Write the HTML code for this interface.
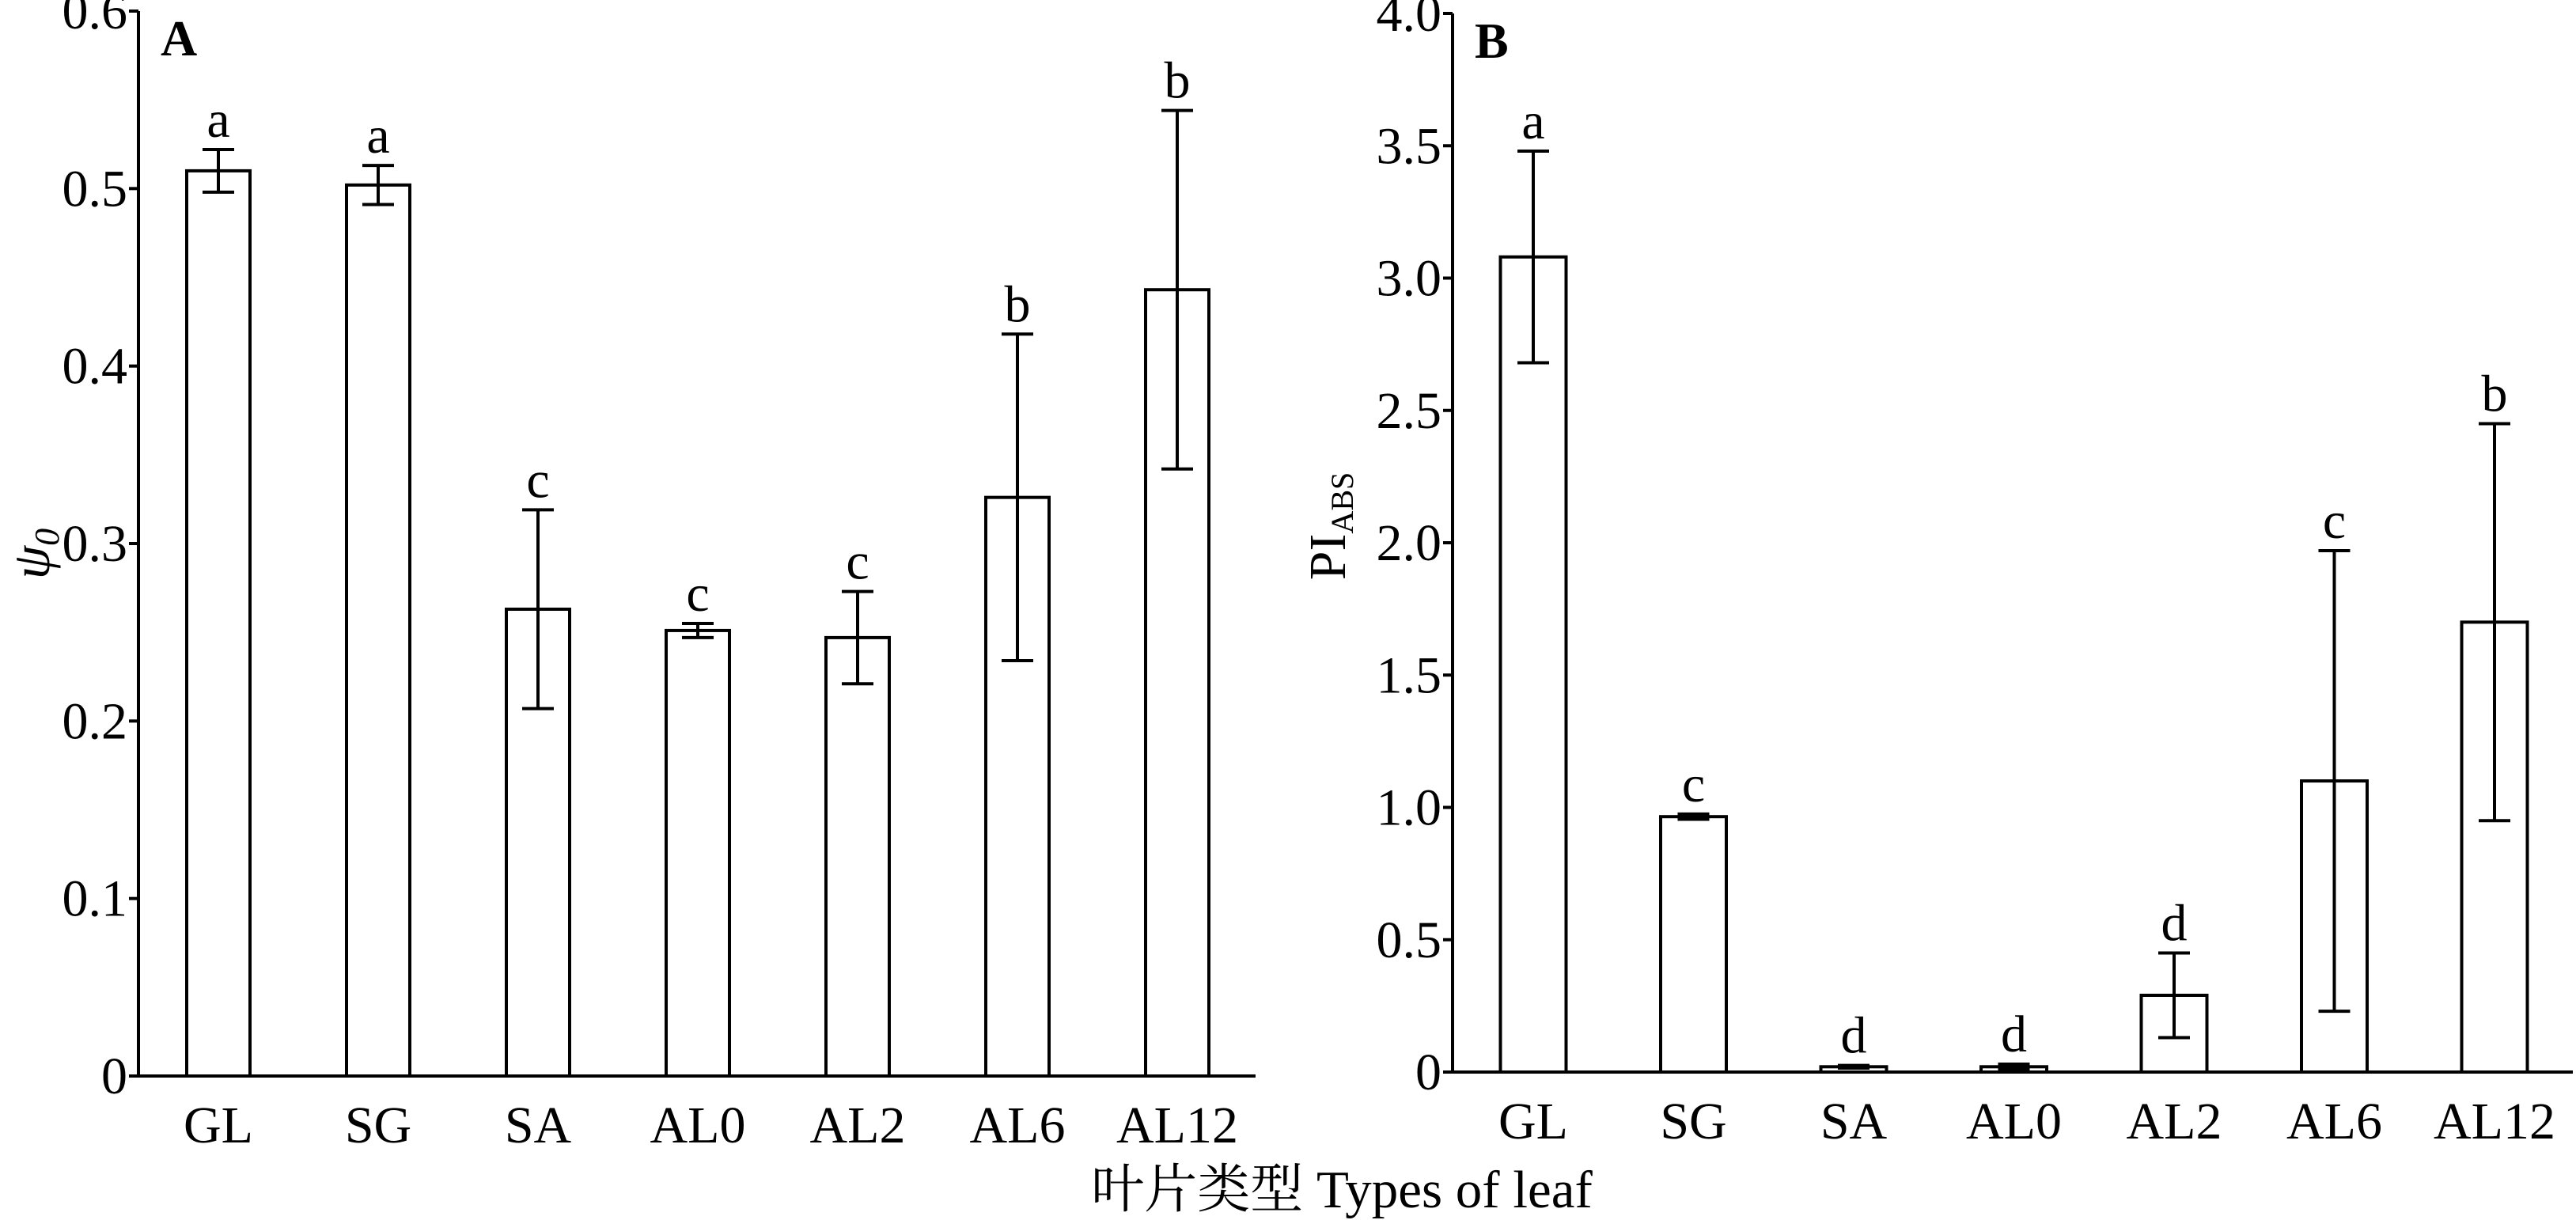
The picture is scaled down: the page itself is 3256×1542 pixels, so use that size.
<!DOCTYPE html>
<html><head><meta charset="utf-8"><style>
body{margin:0;background:#fff}
svg{display:block}
text{font-family:"Liberation Serif","Noto Serif CJK SC",serif;fill:#000}
</style></head><body>
<svg id="c" width="3256" height="1542" viewBox="0 0 3256 1542"></svg>
<script>
const categories=["GL","SG","SA","AL0","AL2","AL6","AL12"];
const valuesA=[0.510,0.502,0.263,0.251,0.247,0.326,0.443];
const errA=[0.012,0.011,0.056,0.004,0.026,0.092,0.101];
const lettersA=["a","a","c","c","c","b","b"];
const ticksA=[0,0.1,0.2,0.3,0.4,0.5,0.6];
const tickLabelsA=["0","0.1","0.2","0.3","0.4","0.5","0.6"];
const valuesB=[3.08,0.965,0.02,0.02,0.29,1.10,1.70];
const errB=[0.40,0.01,0.005,0.01,0.16,0.87,0.75];
const lettersB=["a","c","d","d","d","c","b"];
const ticksB=[0,0.5,1,1.5,2,2.5,3,3.5,4];
const tickLabelsB=["0","0.5","1.0","1.5","2.0","2.5","3.0","3.5","4.0"];

const NS="http://www.w3.org/2000/svg";
const svg=document.getElementById('c');
function mk(tag,attrs,parent,txt){const e=document.createElementNS(NS,tag);for(const k in attrs)e.setAttribute(k,attrs[k]);if(txt!==undefined)e.textContent=txt;(parent||svg).appendChild(e);return e;}

function panel(p){
  const g=mk('g',{},svg);
  
  
  const y=v=>p.y0-(v/p.max)*(p.y0-p.yTop);
  const x=i=>p.x0+p.first+i*p.step;
  const ax=mk('path',{d:`M${p.x0} ${p.yTop}V${p.y0}H${p.xEnd}`,stroke:'#000','stroke-width':4,fill:'none'},g);
  
  
  p.ticks.forEach((t,i)=>{
    const tk=mk('line',{x1:p.x0-12,x2:p.x0,y1:y(t),y2:y(t),stroke:'#000','stroke-width':4},g);
    
    
    const tl=mk('text',{x:p.x0-14,y:y(t)+22,'text-anchor':'end','font-size':66},g,p.tickLabels[i]);
    
    
  });
  categories.forEach((c,i)=>{
    const v=p.values[i],e=p.err[i],cx=x(i),w=p.bw;
    const b=mk('rect',{x:cx-w/2,y:y(v),width:w,height:p.y0-y(v),fill:'#fff',stroke:'#000','stroke-width':4},g);
    
    
    const eb=mk('path',{d:`M${cx} ${y(v+e)}V${y(v-e)}M${cx-20} ${y(v+e)}H${cx+20}M${cx-20} ${y(v-e)}H${cx+20}`,stroke:'#000','stroke-width':4,fill:'none'},g);
    
    
    const lt=mk('text',{x:cx,y:y(v+e)-16,'text-anchor':'middle','font-size':66},g,p.letters[i]);
    
    
    const cl=mk('text',{x:cx,y:p.y0+84,'text-anchor':'middle','font-size':66},g,c);
    
    
  });
  const pl=mk('text',{x:p.x0+28,y:p.yTop+56,'font-size':64,'font-weight':'bold'},g,p.label);
  
  
  return g;
}
panel({name:'panel-a',x0:175,xEnd:1587,yTop:14,y0:1360,max:0.6,first:101,step:202,bw:80,values:valuesA,err:errA,letters:lettersA,ticks:ticksA,tickLabels:tickLabelsA,label:'A'});
panel({name:'panel-b',x0:1836,xEnd:3252,yTop:17,y0:1355,max:4.0,first:102,step:202.5,bw:83,values:valuesB,err:errB,letters:lettersB,ticks:ticksB,tickLabels:tickLabelsB,label:'B'});

const ya=mk('text',{transform:'translate(62 700) rotate(-90)','text-anchor':'middle','font-size':68,'font-style':'italic'},svg);


mk('tspan',{},ya,'ψ');mk('tspan',{'font-size':44,dy:12},ya,'0');

const yb=mk('text',{transform:'translate(1700 665) rotate(-90)','text-anchor':'middle','font-size':66},svg);


mk('tspan',{},yb,'PI');mk('tspan',{'font-size':40,dy:10},yb,'ABS');

const xt=mk('text',{x:1696,y:1526,'text-anchor':'middle','font-size':67},svg,'叶片类型 Types of leaf');


</script>
</body></html>
